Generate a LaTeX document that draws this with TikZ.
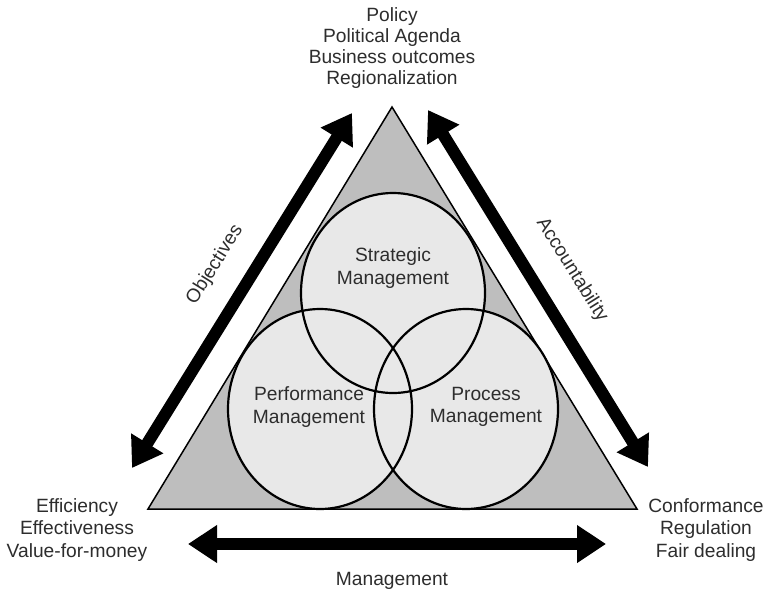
\documentclass[tikz,border=0pt]{standalone}
\usepackage{fontspec}
\setmainfont{Liberation Sans}
\usetikzlibrary{arrows.meta}
\definecolor{trifill}{RGB}{190,190,190}
\definecolor{circfill}{RGB}{232,232,232}
\definecolor{txtgray}{RGB}{45,45,45}
\begin{document}
\begin{tikzpicture}[x=1pt,y=-1pt,
  lbl/.style={text=txtgray, font=\fontsize{19.2}{22.5}\selectfont, align=center, inner sep=0pt},
  bigarrow/.style={line width=12pt,
    {Triangle[width=36pt,length=29pt]}-{Triangle[width=36pt,length=29pt]}},
  ring/.style={line width=2.2pt, draw=black},
  tri/.style={fill=trifill, draw=black, line width=1.5pt, line join=miter}]
\useasboundingbox (0,0) rectangle (766,595);

% corners of the triangle
\coordinate (apex) at (392,107);
\coordinate (bl) at (148,509);
\coordinate (br) at (637,509);
\draw[tri] (apex) -- (br) -- (bl) -- cycle;

% centres of the three management circles
\coordinate (cs) at (393,293);
\coordinate (cpf) at (320,409);
\coordinate (cpr) at (466,409);
\foreach \c in {cs,cpf,cpr}
  \fill[circfill] (\c) ellipse [x radius=92, y radius=100];
\foreach \c in {cs,cpf,cpr}
  \draw[ring] (\c) ellipse [x radius=92, y radius=100];

% circle labels
\node[lbl] (strat) at (393,268) {Strategic\\Management};
\node[lbl] (perf) at (309,407) {Performance\\Management};
\node[lbl] (proc) at (486,407) {Process\\Management};

% corner labels
\node[lbl, font=\fontsize{19.2}{21}\selectfont] (top) at (392,48) {Policy\\Political Agenda\\Business outcomes\\Regionalization};
\node[lbl] (left) at (77,530) {Efficiency\\Effectiveness\\Value-for-money};
\node[lbl] (right) at (706,530) {Conformance\\Regulation\\Fair dealing};

% double arrows along the sides
\coordinate (lA) at (132,468);
\coordinate (lB) at (352,113);
\coordinate (rA) at (428,110);
\coordinate (rB) at (648,467);
\coordinate (bA) at (188,544);
\coordinate (bB) at (606,544);
\draw[bigarrow] (lA) -- (lB);
\draw[bigarrow] (rA) -- (rB);
\draw[bigarrow] (bA) -- (bB);

% arrow labels
\node[lbl, rotate=58] (obj) at (215,265) {Objectives};
\node[lbl, rotate=-58] (acc) at (572,270) {Accountability};
\node[lbl] (mgmt) at (392,581) {Management};
\end{tikzpicture}
\end{document}
